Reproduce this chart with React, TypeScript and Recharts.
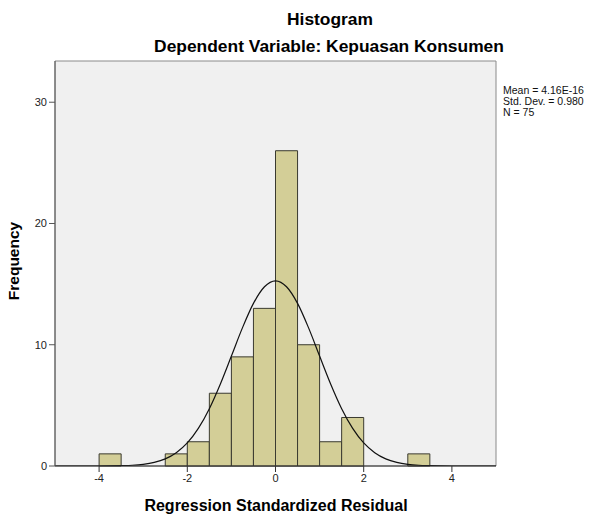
import { ComposedChart, Line, XAxis, YAxis, ReferenceArea } from 'recharts'

// histogram bins (lower edge) and their counts, bin width 0.5
const binStarts = [-4, -2.5, -2, -1.5, -1, -0.5, 0, 0.5, 1, 1.5, 3]
const binCounts = [1, 1, 2, 6, 9, 13, 26, 10, 2, 4, 1]
const BIN_WIDTH = 0.5

// normal curve
const curveX = [-5, -4, -3.75, -3.5, -3.25, -3, -2.75, -2.5, -2.25, -2, -1.75, -1.5, -1.25, -1, -0.75, -0.5, -0.25, 0,
  0.25, 0.5, 0.75, 1, 1.25, 1.5, 1.75, 2, 2.25, 2.5, 2.75, 3, 3.25, 3.5, 3.75, 4, 5]
const curveY = [0, 0, 0.01, 0.03, 0.06, 0.14, 0.3, 0.59, 1.1, 1.9, 3.1, 4.73, 6.77, 9.07, 11.39, 13.41, 14.78, 15.27,
  14.78, 13.41, 11.39, 9.07, 6.77, 4.73, 3.1, 1.9, 1.1, 0.59, 0.3, 0.14, 0.06, 0.03, 0.01, 0, 0]

const xTicks = [-4, -2, 0, 2, 4]
const yTicks = [0, 10, 20, 30]
const X_DOMAIN: [number, number] = [-5, 5]
const Y_DOMAIN: [number, number] = [0, 33.4]

const statsLines = ['Mean = 4.16E-16', 'Std. Dev. = 0.980', 'N = 75']

const FONT = '"Liberation Sans", Arial, sans-serif'

export default function App() {
  const curveData = curveX.map((x, i) => ({ x, y: curveY[i] }))

  return (
    <div style={{ position: 'absolute', left: 0, top: 0, width: 595, height: 516, background: '#fff', fontFamily: FONT }}>
      <div style={{ position: 'absolute', left: 330, top: 9, transform: 'translateX(-50%)', fontSize: 17.4, lineHeight: '20px', fontWeight: 'bold', whiteSpace: 'nowrap' }}>
        Histogram
      </div>
      <div style={{ position: 'absolute', left: 329, top: 36, transform: 'translateX(-50%)', fontSize: 17.4, lineHeight: '20px', fontWeight: 'bold', whiteSpace: 'nowrap' }}>
        Dependent Variable: Kepuasan Konsumen
      </div>

      <ComposedChart width={595} height={516} data={curveData} margin={{ top: 61, right: 99, bottom: 0, left: 0 }}>
        <XAxis
          dataKey="x"
          type="number"
          domain={X_DOMAIN}
          ticks={xTicks}
          height={50}
          allowDataOverflow
          stroke="#333"
          tickSize={6}
          tick={{ fill: '#222', fontSize: 11, fontFamily: FONT }}
        />
        <YAxis
          type="number"
          domain={Y_DOMAIN}
          ticks={yTicks}
          width={55}
          allowDataOverflow
          stroke="#555"
          tickSize={6}
          tickMargin={2}
          tick={{ fill: '#222', fontSize: 11, fontFamily: FONT }}
        />
        {/* plot background + frame */}
        <ReferenceArea x1={X_DOMAIN[0]} x2={X_DOMAIN[1]} y1={Y_DOMAIN[0]} y2={Y_DOMAIN[1]} fill="#F0F0F0" fillOpacity={1} stroke="#8a8a8a" strokeWidth={1} />
        {binStarts.map((s, i) => (
          <ReferenceArea
            key={s}
            x1={s}
            x2={s + BIN_WIDTH}
            y1={0}
            y2={binCounts[i]}
            fill="#D3CE97"
            fillOpacity={1}
            stroke="#3a3a30"
            strokeWidth={1}
          />
        ))}
        <Line type="monotone" dataKey="y" stroke="#111" strokeWidth={1.2} dot={false} activeDot={false} isAnimationActive={false} />
      </ComposedChart>

      <div style={{ position: 'absolute', left: 503, top: 85, fontSize: 10.5, lineHeight: '11px', color: '#111', whiteSpace: 'pre' }}>
        {statsLines.join('\n')}
      </div>
      <div style={{ position: 'absolute', left: 276, top: 497, transform: 'translateX(-50%)', fontSize: 16, lineHeight: '18px', fontWeight: 'bold', whiteSpace: 'nowrap' }}>
        Regression Standardized Residual
      </div>
      <div style={{ position: 'absolute', left: 14, top: 261, transform: 'translate(-50%, -50%) rotate(-90deg)', fontSize: 15.5, lineHeight: '18px', fontWeight: 'bold', whiteSpace: 'nowrap' }}>
        Frequency
      </div>
    </div>
  )
}
